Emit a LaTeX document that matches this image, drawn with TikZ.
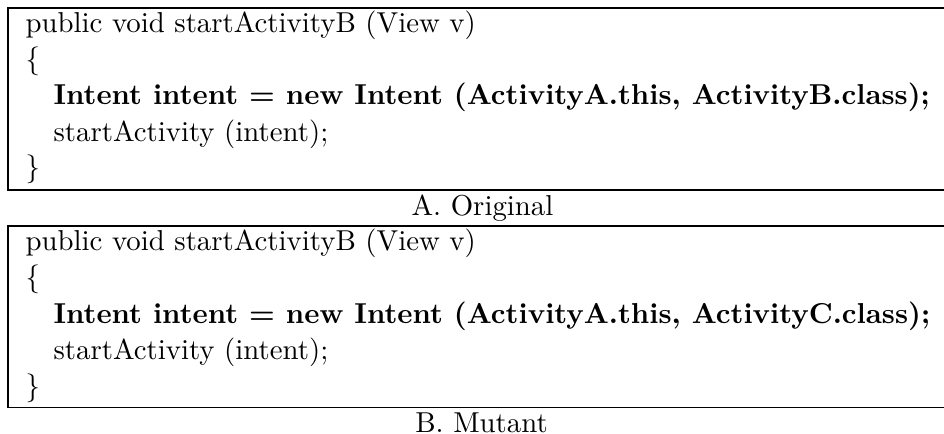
\documentclass[tikz,border=0pt]{standalone}
\begin{document}
\begin{tikzpicture}[x=0.3472pt,y=-0.3472pt,
  codeline/.style={anchor=base west, inner sep=0pt, font=\fontsize{10}{12}\selectfont},
  codebold/.style={codeline, font=\fontsize{10}{12}\selectfont\bfseries},
  captext/.style={anchor=base, inner sep=0pt, font=\fontsize{10}{12}\selectfont},
  tablerule/.style={line width=0.4pt, draw=black}]
\useasboundingbox (0,0) rectangle (944,434);

% frame of the original listing
\draw[tablerule] (960,8) -- (8,8) -- (8,190) -- (960,190);
% frame of the mutant listing
\draw[tablerule] (960,226) -- (8,226) -- (8,407.5) -- (960,407.5);

% original code
\node[codeline] (a1) at (25,32.5)  {public void startActivityB (View v)};
\node[codeline] (a2) at (25,68.5)  {\{};
\node[codebold] (a3) at (53,105)   {Intent intent = new Intent (ActivityA.this, ActivityB.class);};
\node[codeline] (a4) at (53,141)   {startActivity (intent);};
\node[codeline] (a5) at (25,177)   {\}};
\node[captext]  (ca) at (482.5,215) {A. Original};

% mutant code
\node[codeline] (b1) at (25,250.5) {public void startActivityB (View v)};
\node[codeline] (b2) at (25,286.5) {\{};
\node[codebold] (b3) at (53,323)   {Intent intent = new Intent (ActivityA.this, ActivityC.class);};
\node[codeline] (b4) at (53,359)   {startActivity (intent);};
\node[codeline] (b5) at (25,395)   {\}};
\node[captext]  (cb) at (481.5,432) {B. Mutant};
\end{tikzpicture}
\end{document}
